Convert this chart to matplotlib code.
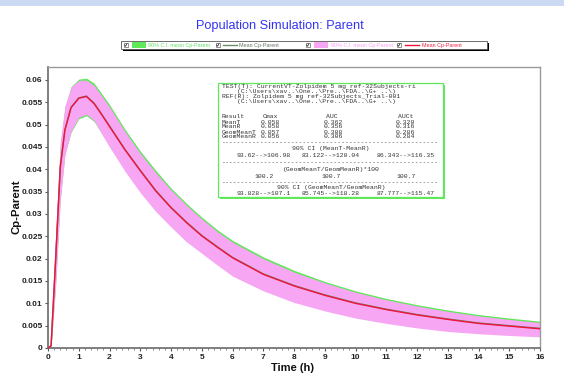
import matplotlib
matplotlib.use("Agg")
import matplotlib.pyplot as plt
from matplotlib.patches import Rectangle
from matplotlib.lines import Line2D
from matplotlib.ticker import MultipleLocator, FixedLocator, FixedFormatter

# ---------------- data ----------------
time_h = [0, 0.1, 0.25, 0.4, 0.55, 0.75, 1.0, 1.25, 1.5, 1.75, 2.0, 2.5, 3.0, 3.5,
          4.0, 4.5, 5.0, 5.5, 6.0, 7.0, 8.0, 9.0, 10, 11, 12, 13, 14, 15, 16]
mean_ref = [0, 0.0005, 0.020, 0.0405, 0.0488, 0.0538, 0.0559, 0.0563, 0.0547, 0.0522,
            0.0496, 0.0444, 0.0397, 0.0352, 0.0314, 0.0281, 0.0251, 0.0226, 0.0202,
            0.0165, 0.0139, 0.0118, 0.0100, 0.0086, 0.0074, 0.0064, 0.0055, 0.0049, 0.0043]
mean_test = [0, 0.0005, 0.0201, 0.0406, 0.0489, 0.0539, 0.0560, 0.0564, 0.0548, 0.0523,
             0.0497, 0.0445, 0.0398, 0.0353, 0.0315, 0.0282, 0.0252, 0.0227, 0.0203,
             0.0166, 0.0140, 0.0119, 0.0101, 0.0087, 0.0075, 0.0065, 0.0056, 0.0050, 0.0044]
ci_test_hi = [0, 0.0008, 0.025, 0.0455, 0.0538, 0.0585, 0.0602, 0.0604, 0.0593, 0.0569,
              0.0545, 0.0490, 0.0441, 0.0398, 0.0358, 0.0324, 0.0293, 0.0265, 0.0241,
              0.0204, 0.0174, 0.0149, 0.0128, 0.0111, 0.0097, 0.0085, 0.0075, 0.0067, 0.0060]
ci_test_lo = [0, 0.0002, 0.0145, 0.0335, 0.0434, 0.0483, 0.0513, 0.0520, 0.0507, 0.0480,
              0.0452, 0.0398, 0.0350, 0.0308, 0.0273, 0.0240, 0.0214, 0.0188, 0.0163,
              0.0130, 0.0104, 0.0085, 0.0069, 0.0057, 0.0047, 0.0039, 0.0034, 0.0030, 0.0027]
ci_ref_hi = [0, 0.0010, 0.026, 0.0462, 0.0542, 0.0584, 0.0599, 0.0600, 0.0588, 0.0564,
             0.0540, 0.0485, 0.0436, 0.0393, 0.0354, 0.0320, 0.0289, 0.0261, 0.0237,
             0.0200, 0.0170, 0.0146, 0.0125, 0.0108, 0.0094, 0.0082, 0.0072, 0.0064, 0.0057]
ci_ref_lo = [0, 0.0002, 0.014, 0.033, 0.0432, 0.0485, 0.0516, 0.0523, 0.0509, 0.0479,
             0.0450, 0.0396, 0.0348, 0.0306, 0.0271, 0.0238, 0.0212, 0.0186, 0.0161,
             0.0128, 0.0102, 0.0083, 0.0067, 0.0055, 0.0045, 0.0037, 0.0032, 0.0028, 0.0025]

y_ticks = [0, 0.005, 0.01, 0.015, 0.02, 0.025, 0.03, 0.035, 0.04, 0.045, 0.05, 0.055, 0.06]
y_tick_labels = ["0", "0.005", "0.01", "0.015", "0.02", "0.025", "0.03", "0.035",
                 "0.04", "0.045", "0.05", "0.055", "0.06"]
x_ticks = list(range(0, 17))

title = "Population Simulation: Parent"
legend_labels = ["90% C.I. mean Cp-Parent", "Mean Cp-Parent",
                 "90% C.I. mean Cp-Parent", "Mean Cp-Parent"]

stats_header = [
    ("TEST(T): CurrentVT-Zolpidem 5 mg ref-32Subjects-ri", 222, 86.5),
    ("(C:\\Users\\xav..\\One..\\Pre..\\FDA..\\G+ ..\\)", 237, 91.5),
    ("REF(R): Zolpidem 5 mg ref-32Subjects_Trial-001", 222, 96.5),
    ("(C:\\Users\\xav..\\One..\\Pre..\\FDA..\\G+ ..\\)", 237, 101.5),
]
stats_table = [
    ["Result", "Cmax", "AUC", "AUCt"],
    ["MeanT", "0.058", "0.362", "0.320"],
    ["MeanR", "0.058", "0.356", "0.316"],
    ["GeomMeanT", "0.057", "0.308", "0.286"],
    ["GeomMeanR", "0.056", "0.306", "0.284"],
]
ci_mean = ["93.62-->106.98", "83.122-->120.04", "86.343-->116.35"]
ratio_geo = ["100.2", "100.7", "100.7"]
ci_geo = ["93.828-->107.1", "85.745-->118.28", "87.777-->115.47"]

# ---------------- figure ----------------
W, H = 564, 376
fig = plt.figure(figsize=(W / 100, H / 100), dpi=100)
fig.patch.set_facecolor("white")


def fx(px):
    return px / W


def fy(py):
    return 1 - py / H


# top light-blue band
fig.add_artist(Rectangle((0, fy(6)), 1, 6 / H, transform=fig.transFigure,
                         facecolor="#cbd9f2", edgecolor="none", zorder=0))

# axes
ax_l, ax_r, ax_t, ax_b = 48, 540, 67, 348
ax = fig.add_axes([fx(ax_l), fy(ax_b), (ax_r - ax_l) / W, (ax_b - ax_t) / H])
ax.set_xlim(0, 16)
ax.set_ylim(0, (ax_b - ax_t) / 4467.0)

pink = "#f7a6f3"
green = "#5ee85a"
red = "#f0143c"
greyline = "#6e8a6e"

ax.fill_between(time_h, ci_test_lo, ci_test_hi, color=green, lw=0, zorder=1)
ax.fill_between(time_h, ci_ref_lo, ci_ref_hi, color=pink, lw=0, zorder=2)
ax.plot(time_h, mean_test, color=greyline, lw=1.0, zorder=3)
ax.plot(time_h, mean_ref, color=red, lw=1.0, zorder=4)

for s in ["top", "right"]:
    ax.spines[s].set_color("#9a9a9a")
    ax.spines[s].set_linewidth(1.0)
for s in ["left", "bottom"]:
    ax.spines[s].set_color("#6a6a6a")
    ax.spines[s].set_linewidth(1.2)

ax.yaxis.set_major_locator(FixedLocator(y_ticks))
ax.yaxis.set_major_formatter(FixedFormatter(y_tick_labels))
ax.xaxis.set_major_locator(FixedLocator(x_ticks))
ax.xaxis.set_minor_locator(MultipleLocator(0.2))
ax.tick_params(axis="both", which="major", direction="out", length=2.5, width=0.8,
               color="#555555", labelsize=6, pad=1.5)
ax.tick_params(axis="x", which="minor", direction="out", length=1.5, width=0.6,
               color="#777777")
for lab in ax.get_xticklabels() + ax.get_yticklabels():
    lab.set_fontweight("bold")
    lab.set_family("Liberation Sans")
    lab.set_color("#222222")

fig.text(fx(293), fy(368), "Time (h)", fontsize=8, fontweight="bold",
         family="Liberation Sans", ha="center", va="center", color="#111111")
fig.text(fx(16.5), fy(207), "Cp-Parent", fontsize=8.2, fontweight="bold",
         family="Liberation Sans", ha="center", va="center", rotation=90, color="#111111")

# title
fig.text(fx(280), fy(26), title, fontsize=9.2, family="Liberation Sans",
         color="#3434f0", ha="center", va="center")

# ---------------- legend ----------------
lx0, lx1, ly0, ly1 = 121, 487, 41, 49
fig.add_artist(Rectangle((fx(lx0 + 2), fy(ly1 + 2)), (lx1 - lx0) / W, (ly1 - ly0) / H,
                         transform=fig.transFigure, facecolor="black", edgecolor="none",
                         zorder=5))
fig.add_artist(Rectangle((fx(lx0), fy(ly1)), (lx1 - lx0) / W, (ly1 - ly0) / H,
                         transform=fig.transFigure, facecolor="white",
                         edgecolor="#555555", lw=0.6, zorder=6))
ly = 45


def checkbox(x):
    fig.add_artist(Rectangle((fx(x), fy(ly + 2)), 3.5 / W, 4 / H, transform=fig.transFigure,
                             facecolor="white", edgecolor="#666666", lw=0.5, zorder=7))
    fig.add_artist(Line2D([fx(x + 0.7), fx(x + 1.6), fx(x + 3.0)],
                          [fy(ly), fy(ly + 1.3), fy(ly - 1.5)],
                          transform=fig.transFigure, color="#222222", lw=0.5, zorder=8))


leg_items = [
    (124, "patch", green, 132, 146, legend_labels[0], 148, "#66dd66"),
    (216, "line", greyline, 223, 237, legend_labels[1], 239, "#667766"),
    (306, "patch", pink, 314, 328, legend_labels[2], 331, "#f4a0f0"),
    (397, "line", red, 405, 419, legend_labels[3], 422, "#ee2244"),
]
for cb, kind, col, a0, a1, lab, tx, tcol in leg_items:
    checkbox(cb)
    if kind == "patch":
        fig.add_artist(Rectangle((fx(a0), fy(ly + 2.5)), (a1 - a0) / W, 5 / H,
                                 transform=fig.transFigure, facecolor=col,
                                 edgecolor="none", zorder=7))
    else:
        fig.add_artist(Line2D([fx(a0), fx(a1)], [fy(ly), fy(ly)],
                              transform=fig.transFigure, color=col, lw=1.0, zorder=7))
    fig.text(fx(tx), fy(ly), lab, fontsize=3.9, family="Liberation Sans", color=tcol,
             ha="left", va="center", zorder=8)

# ---------------- stats box ----------------
bx0, bx1, by0, by1 = 218, 443, 83, 197
fig.add_artist(Rectangle((fx(bx0 + 2), fy(by1 + 2)), (bx1 - bx0) / W, (by1 - by0) / H,
                         transform=fig.transFigure, facecolor="#5ee85a", edgecolor="none",
                         zorder=5))
fig.add_artist(Rectangle((fx(bx0), fy(by1)), (bx1 - bx0) / W, (by1 - by0) / H,
                         transform=fig.transFigure, facecolor="white",
                         edgecolor="#5ee85a", lw=0.9, zorder=6))

mono = dict(fontsize=4.6, family="Liberation Mono", color="#333333", va="center", zorder=8)
for s, x, y in stats_header:
    fig.text(fx(x), fy(y), s, ha="left", **mono)

col_x = [222, 261, 324, 396]
row_y = [117, 122, 127, 132, 137]
for r, (row, y) in enumerate(zip(stats_table, row_y)):
    for c, (val, x) in enumerate(zip(row, col_x)):
        xx = x + 2 if (r == 0 and c > 0) else x
        fig.text(fx(xx), fy(y), val, ha="left", **mono)

dash = "-" * 56
cx = 331
fig.text(fx(222), fy(143), dash, ha="left", **mono)
fig.text(fx(cx), fy(149), "90% CI (MeanT-MeanR)", ha="center", **mono)
for val, x in zip(ci_mean, [264, 331, 406]):
    fig.text(fx(x), fy(155.5), val, ha="center", **mono)
fig.text(fx(222), fy(163), dash, ha="left", **mono)
fig.text(fx(cx), fy(169.5), "(GeomMeanT/GeomMeanR)*100", ha="center", **mono)
for val, x in zip(ratio_geo, [264, 331, 406]):
    fig.text(fx(x), fy(176), val, ha="center", **mono)
fig.text(fx(222), fy(182.5), dash, ha="left", **mono)
fig.text(fx(cx), fy(188), "90% CI (GeomMeanT/GeomMeanR)", ha="center", **mono)
for val, x in zip(ci_geo, [264, 331, 406]):
    fig.text(fx(x), fy(193.5), val, ha="center", **mono)

fig.savefig("out.png", dpi=100)
